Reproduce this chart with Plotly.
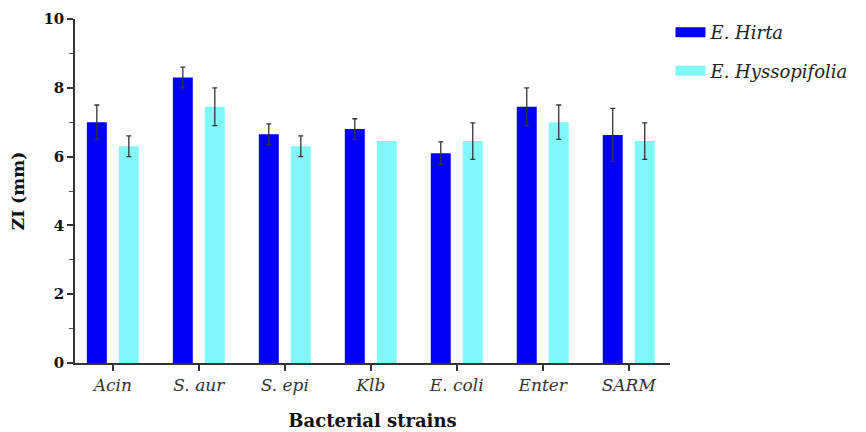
import plotly.graph_objects as go

categories = ["Acin", "S. aur", "S. epi", "Klb", "E. coli", "Enter", "SARM"]
hirta = [7.0, 8.3, 6.65, 6.8, 6.1, 7.45, 6.63]
hirta_err = [0.5, 0.3, 0.3, 0.3, 0.33, 0.55, 0.77]
hysso = [6.3, 7.45, 6.3, 6.45, 6.45, 7.0, 6.45]
hysso_err = [0.3, 0.55, 0.3, None, 0.53, 0.5, 0.53]
series_names = ["E. Hirta", "E. Hyssopifolia"]
y_ticks = [0, 2, 4, 6, 8, 10]

FONT = "DejaVu Serif"
ERRC = "#333333"
BLUE = "#0000f5"
CYAN = "#80f8f8"


def err_array(vals):
    # missing error -> NaN so no error bar is drawn for that point
    return [v if v is not None else "NaN" for v in vals]


fig = go.Figure()
fig.add_trace(go.Bar(
    x=categories, y=hirta, name=series_names[0], showlegend=False,
    marker=dict(color=BLUE, line=dict(width=0)),
    error_y=dict(type="data", array=err_array(hirta_err), visible=True, color=ERRC, thickness=1.3, width=2.5),
))
fig.add_trace(go.Bar(
    x=categories, y=hysso, name=series_names[1], showlegend=False,
    marker=dict(color=CYAN, line=dict(width=0)),
    error_y=dict(type="data", array=err_array(hysso_err), visible=True, color=ERRC, thickness=1.3, width=2.5),
))
for nm, col in zip(series_names, [BLUE, CYAN]):
    fig.add_trace(go.Scatter(
        x=[None], y=[None], mode="lines", name=nm, legendgroup=nm,
        line=dict(color=col, width=10), showlegend=True, hoverinfo="skip",
    ))

fig.update_layout(
    width=866, height=432,
    margin=dict(l=67, r=204, t=11, b=77),
    paper_bgcolor="white", plot_bgcolor="white",
    barmode="group", bargap=0.256, bargroupgap=0.376,
    font=dict(family=FONT, color="#1a1a1a"),
    legend=dict(
        xref="container", yref="container",
        x=0.765, y=0.986, xanchor="left", yanchor="top",
        font=dict(family=FONT, size=18, style="italic", color="#222"),
        traceorder="grouped", tracegroupgap=12, bgcolor="rgba(0,0,0,0)",
    ),
    showlegend=True,
)
fig.update_xaxes(
    range=[-0.44, 6.48], showline=True, linecolor="#333", linewidth=1.5,
    ticks="outside", ticklen=6, tickwidth=1.5, tickcolor="#333",
    tickfont=dict(family=FONT, size=17, style="italic", color="#333"),
    title=dict(text="Bacterial strains", font=dict(family=FONT, size=18, weight="bold", color="#111"), standoff=20),
    showgrid=False, zeroline=False, automargin=False,
)
fig.update_yaxes(
    range=[0, 10], tickvals=y_ticks, showline=True, linecolor="#333", linewidth=1.5,
    ticks="outside", ticklen=6, tickwidth=1.5, tickcolor="#333",
    minor=dict(dtick=1, ticks="outside", ticklen=4, tickwidth=1.2, tickcolor="#555", showgrid=False),
    tickfont=dict(family=FONT, size=15, weight="bold", color="#111"),
    title=dict(text="ZI (mm)", font=dict(family=FONT, size=17, weight="bold", color="#111"), standoff=16),
    showgrid=False, zeroline=False, automargin=False,
)

fig.write_html("out.html")
